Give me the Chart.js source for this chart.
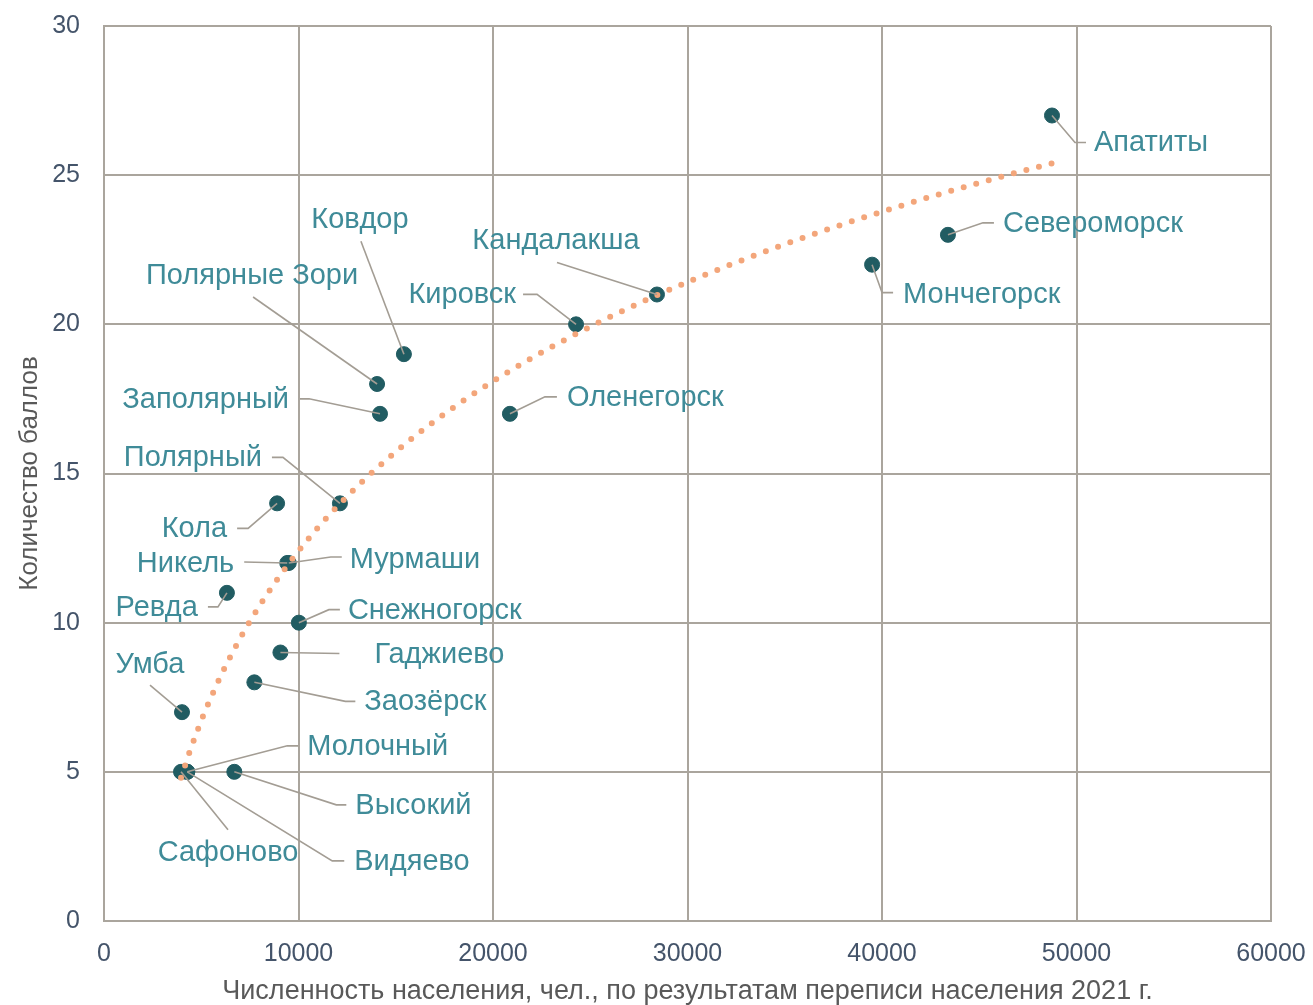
<!DOCTYPE html>
<html>
<head>
<meta charset="utf-8">
<script src="https://cdn.jsdelivr.net/npm/chart.js@4.4.1/dist/chart.umd.min.js"></script>
<style>
  body { margin: 0; background: #fff; }
  #wrap { width: 1313px; height: 1005px; position: relative; }
</style>
</head>
<body>
<div id="wrap"><canvas id="chart"></canvas></div>
<script>
// towns of Murmansk region: population (2021 census) vs score
const towns = [
  'Апатиты', 'Североморск', 'Мончегорск', 'Кандалакша', 'Кировск', 'Оленегорск',
  'Ковдор', 'Полярные Зори', 'Заполярный', 'Полярный', 'Кола', 'Никель', 'Мурмаши',
  'Ревда', 'Снежногорск', 'Гаджиево', 'Заозёрск', 'Умба', 'Молочный', 'Высокий',
  'Сафоново', 'Видяево'
];
const population = [
  48740, 43390, 39490, 28430, 24270, 20870,
  15420, 14040, 14190, 12130, 8900, 9420, 9500,
  6320, 10020, 9070, 7730, 4010, 4280, 6700,
  3960, 4280
];
const score = [
  27, 23, 22, 21, 20, 17,
  19, 18, 17, 14, 14, 12, 12,
  11, 10, 9, 8, 7, 5, 5,
  5, 5
];
const xTicks = [0, 10000, 20000, 30000, 40000, 50000, 60000];
const yTicks = [0, 5, 10, 15, 20, 25, 30];

// label placement relative to the point, in px: text anchor, alignment, leader elbow points
const labelLayout = [
  { t: [42, 27], a: 'left', p: [[23, 27], [34, 27]] },
  { t: [55, -11], a: 'left', p: [[35, -12], [46, -12]] },
  { t: [31, 30], a: 'left', p: [[10, 28], [21, 28]] },
  { t: [-101, -54], a: 'center', p: [[-100, -32]] },
  { t: [-60, -29], a: 'right', p: [[-39, -30], [-53, -30]] },
  { t: [57, -16], a: 'left', p: [[35, -17], [47, -17]] },
  { t: [-44, -134], a: 'center', p: [[-43, -113]] },
  { t: [-125, -108], a: 'center', p: [[-124, -87]] },
  { t: [-91, -14], a: 'right', p: [[-71, -15], [-80, -15]] },
  { t: [-78, -45], a: 'right', p: [[-57, -46], [-68, -46]] },
  { t: [-50, 26], a: 'right', p: [[-29, 25], [-40, 25]] },
  { t: [-53, 1], a: 'right', p: [[-43, -1]] },
  { t: [61, -3], a: 'left', p: [[42, -6], [53, -6]] },
  { t: [-29, 15], a: 'right', p: [[-9, 14], [-19, 14]] },
  { t: [49, -12], a: 'left', p: [[30, -13], [41, -13]] },
  { t: [94, 2], a: 'left', p: [[59, 1]] },
  { t: [110, 20], a: 'left', p: [[91, 19], [101, 19]] },
  { t: [-32, -47], a: 'center', p: [[-32, -27]] },
  { t: [120, -25], a: 'left', p: [[100, -26], [111, -26]] },
  { t: [121, 34], a: 'left', p: [[102, 33], [112, 33]] },
  { t: [47, 81], a: 'center', p: [[47, 58]] },
  { t: [167, 90], a: 'left', p: [[145, 89], [157, 89]] }
];

// logarithmic trend line fitted to the points, like the spreadsheet trendline
function logFit(xs, ys) {
  const n = xs.length;
  let sx = 0, sy = 0, sxx = 0, sxy = 0;
  for (let i = 0; i < n; i++) {
    const lx = Math.log(xs[i]);
    sx += lx; sy += ys[i]; sxx += lx * lx; sxy += lx * ys[i];
  }
  const a = (n * sxy - sx * sy) / (n * sxx - sx * sx);
  const b = (sy - a * sx) / n;
  return { a, b };
}
const fit = logFit(population, score);
const xMin = Math.min(...population), xMax = Math.max(...population);
const trend = [];
for (let i = 0; i <= 120; i++) {
  const x = xMin + (xMax - xMin) * i / 120;
  trend.push({ x: x, y: fit.a * Math.log(x) + fit.b });
}

const gridColor = '#aaa59d';
const labelColor = '#3f8b98';
const tickColor = '#44546a';

const labelPlugin = {
  id: 'townLabels',
  afterDatasetsDraw(chart) {
    const ctx = chart.ctx;
    const meta = chart.getDatasetMeta(1);
    ctx.save();
    ctx.strokeStyle = '#a39d94';
    ctx.lineWidth = 1.6;
    meta.data.forEach((pt, i) => {
      const L = labelLayout[i];
      ctx.beginPath();
      ctx.moveTo(pt.x, pt.y);
      L.p.forEach(q => ctx.lineTo(pt.x + q[0], pt.y + q[1]));
      ctx.stroke();
    });
    ctx.font = '29px "Liberation Sans", Arial, sans-serif';
    ctx.fillStyle = labelColor;
    ctx.textBaseline = 'middle';
    meta.data.forEach((pt, i) => {
      const L = labelLayout[i];
      ctx.textAlign = L.a;
      ctx.fillText(towns[i], pt.x + L.t[0], pt.y + L.t[1]);
    });
    ctx.restore();
  }
};

new Chart(document.getElementById('chart'), {
  type: 'scatter',
  data: {
    datasets: [
      {
        label: 'Тренд',
        type: 'line',
        data: trend,
        borderColor: '#f3a67b',
        borderWidth: 6,
        borderDash: [0, 13],
        borderCapStyle: 'round',
        pointRadius: 0,
        fill: false,
        tension: 0
      },
      {
        label: 'Баллы',
        data: population.map((x, i) => ({ x: x, y: score[i] })),
        backgroundColor: '#215c62',
        borderColor: '#215c62',
        pointRadius: 7.5,
        pointHoverRadius: 7.5
      }
    ]
  },
  options: {
    responsive: true,
    maintainAspectRatio: false,
    animation: false,
    layout: { padding: { top: 26, right: 42, left: 0, bottom: 0 } },
    plugins: {
      legend: { display: false },
      tooltip: { enabled: false }
    },
    scales: {
      x: {
        type: 'linear',
        min: 0,
        max: 60000,
        afterBuildTicks: s => { s.ticks = xTicks.map(v => ({ value: v })); },
        afterFit: s => { s.height = 84; s.paddingLeft = 0; s.paddingRight = 0; },
        grid: { color: gridColor, lineWidth: 2, drawTicks: false },
        border: { color: gridColor, width: 2 },
        ticks: {
          padding: 18,
          maxRotation: 0,
          color: tickColor,
          font: { family: '"Liberation Sans", Arial', size: 25 },
          callback: v => String(v)
        },
        title: {
          display: true,
          text: 'Численность населения, чел., по результатам переписи населения 2021 г.',
          color: '#595959',
          font: { family: '"Liberation Sans", Arial', size: 27, lineHeight: 1 },
          padding: { top: 0, bottom: 0 }
        }
      },
      y: {
        min: 0,
        max: 30,
        afterBuildTicks: s => { s.ticks = yTicks.map(v => ({ value: v })); },
        afterFit: s => { s.width = 104; s.paddingTop = 0; s.paddingBottom = 0; },
        grid: { color: gridColor, lineWidth: 2, drawTicks: false },
        border: { color: gridColor, width: 2 },
        ticks: {
          padding: 24,
          color: tickColor,
          font: { family: '"Liberation Sans", Arial', size: 25 }
        },
        title: {
          display: true,
          text: 'Количество баллов',
          color: '#595959',
          font: { family: '"Liberation Sans", Arial', size: 26, lineHeight: 1 },
          padding: { top: 17, bottom: 0 }
        }
      }
    }
  },
  plugins: [labelPlugin]
});
</script>
</body>
</html>
